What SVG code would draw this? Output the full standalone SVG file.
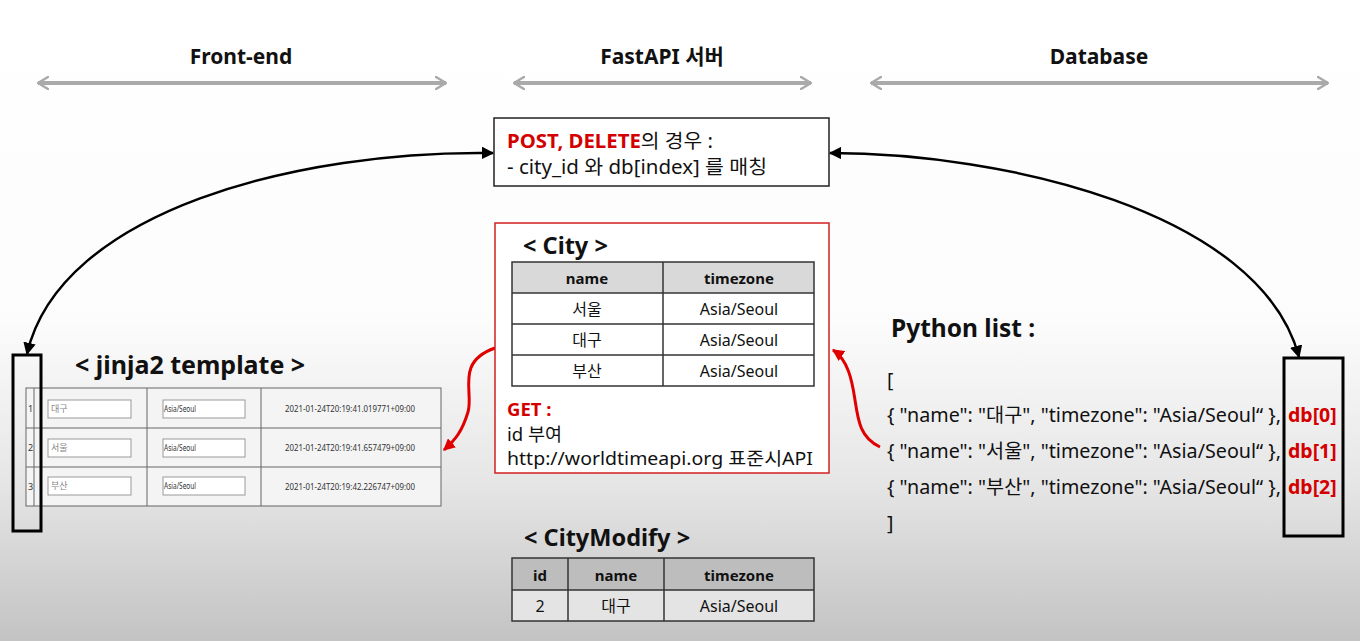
<svg xmlns="http://www.w3.org/2000/svg" width="1360" height="641" viewBox="0 0 1360 641">
<defs>
<linearGradient id="bg" x1="0" y1="0" x2="0" y2="1">
<stop offset="0" stop-color="#ffffff"/>
<stop offset="0.5" stop-color="#fcfcfd"/>
<stop offset="0.75" stop-color="#e6e6e7"/>
<stop offset="1" stop-color="#c3c3c4"/>
</linearGradient>
<marker id="ab" viewBox="0 0 10 10" refX="9" refY="5" markerWidth="5" markerHeight="5" orient="auto-start-reverse" markerUnits="strokeWidth"><path d="M0,0 L10,5 L0,10 z" fill="#000"/></marker>
<marker id="ar" viewBox="0 0 10 10" refX="9" refY="5" markerWidth="4" markerHeight="4" orient="auto" markerUnits="strokeWidth"><path d="M0,0 L10,5 L0,10 z" fill="#e00000"/></marker>
<marker id="ag" viewBox="0 0 12 14" refX="11" refY="7" markerWidth="3" markerHeight="3.5" orient="auto-start-reverse" markerUnits="strokeWidth"><path d="M1,1 L11,7 L1,13" fill="none" stroke="#aaa" stroke-width="2.5" stroke-linecap="round"/></marker>
</defs>
<style>
text{font-family:"Noto Sans","Noto Sans CJK KR",sans-serif;fill:#111}
.h{font-size:21px;font-weight:bold}
.h2{font-size:23.5px;font-weight:bold}
.t{font-size:19.5px}
.t2{font-size:18.5px}
.b{font-weight:bold}
.red{fill:#d40000;font-weight:bold}
.cell{font-size:16px;text-anchor:middle}
.th{font-size:15px;font-weight:bold;text-anchor:middle}
.sm{font-size:9px;fill:#333}
.g{stroke:#aaa;stroke-width:4;fill:none}
.tb{stroke:#333;stroke-width:1.5;fill:none}
.jt{stroke:#666;stroke-width:1;fill:none}
.in{stroke:#999;stroke-width:1;fill:#fff}
</style>
<rect width="1360" height="641" fill="url(#bg)"/>

<g id="headers">
<text class="h" x="241" y="64" text-anchor="middle">Front-end</text>
<text class="h" x="662" y="64" text-anchor="middle">FastAPI 서버</text>
<text class="h" x="1099" y="64" text-anchor="middle">Database</text>
</g>

<g id="connectors">
<line class="g" x1="38" y1="83" x2="446" y2="83" marker-start="url(#ag)" marker-end="url(#ag)"/>
<line class="g" x1="514" y1="83" x2="811" y2="83" marker-start="url(#ag)" marker-end="url(#ag)"/>
<line class="g" x1="871" y1="83" x2="1328" y2="83" marker-start="url(#ag)" marker-end="url(#ag)"/>
<path d="M493,153 C300,150 60,210 27,354" stroke="#000" stroke-width="2.5" fill="none" marker-start="url(#ab)" marker-end="url(#ab)"/>
<path d="M830,153 C1000,153 1260,210 1299,357" stroke="#000" stroke-width="2.5" fill="none" marker-start="url(#ab)" marker-end="url(#ab)"/>
<path d="M495,348 C455,362 474,392 468,412 C462,432 455,440 444,450" stroke="#e00000" stroke-width="3" fill="none" marker-end="url(#ar)"/>
<path d="M880,447 C860,438 858,420 855,400 C852,380 848,360 833,350" stroke="#e00000" stroke-width="3" fill="none" marker-end="url(#ar)"/>
</g>

<g id="post-box">
<rect x="494" y="118" width="335" height="68" fill="#fff" stroke="#222" stroke-width="1.5"/>
<text class="t" x="507" y="148" textLength="206" lengthAdjust="spacingAndGlyphs"><tspan class="red">POST, DELETE</tspan>의 경우 :</text>
<text class="t" x="507" y="174" textLength="260" lengthAdjust="spacingAndGlyphs">- city_id 와 db[index] 를 매칭</text>
</g>

<g id="city">
<rect x="495" y="223" width="334" height="250" fill="#fff" stroke="#d42020" stroke-width="1.5"/>
<text class="h2" x="523" y="254">&lt; City &gt;</text>
<rect x="512" y="262" width="302" height="31" fill="#d9d9d9"/>
<rect class="tb" x="512" y="262" width="302" height="124"/>
<line class="tb" x1="512" y1="293" x2="814" y2="293"/>
<line class="tb" x1="512" y1="324" x2="814" y2="324"/>
<line class="tb" x1="512" y1="355" x2="814" y2="355"/>
<line class="tb" x1="663" y1="262" x2="663" y2="386"/>
<text class="th" x="587" y="284">name</text>
<text class="th" x="739" y="284">timezone</text>
<text class="cell" x="587" y="315">서울</text>
<text class="cell" x="739" y="315">Asia/Seoul</text>
<text class="cell" x="587" y="346">대구</text>
<text class="cell" x="739" y="346">Asia/Seoul</text>
<text class="cell" x="587" y="377">부산</text>
<text class="cell" x="739" y="377">Asia/Seoul</text>
<text class="t2" x="507" y="416"><tspan class="red">GET :</tspan></text>
<text class="t2" x="507" y="441">id 부여</text>
<text class="t2" x="507" y="465" textLength="306" lengthAdjust="spacingAndGlyphs">http://worldtimeapi.org 표준시API</text>
</g>

<g id="jinja">
<text x="75" y="374" style="font-size:25px;font-weight:bold">&lt; jinja2 template &gt;</text>
<rect x="26" y="388" width="415" height="118" fill="#f4f4f4" stroke="#666" stroke-width="1"/>
<line class="jt" x1="26" y1="428" x2="441" y2="428"/>
<line class="jt" x1="26" y1="467" x2="441" y2="467"/>
<line class="jt" x1="34" y1="388" x2="34" y2="506"/>
<line class="jt" x1="147" y1="388" x2="147" y2="506"/>
<line class="jt" x1="261" y1="388" x2="261" y2="506"/>
<text class="sm" x="28" y="412">1</text>
<text class="sm" x="28" y="451">2</text>
<text class="sm" x="28" y="490">3</text>
<rect class="in" x="48" y="400" width="83" height="18"/>
<rect class="in" x="163" y="400" width="82" height="18"/>
<rect class="in" x="48" y="439" width="83" height="18"/>
<rect class="in" x="163" y="439" width="82" height="18"/>
<rect class="in" x="48" y="477" width="83" height="18"/>
<rect class="in" x="163" y="477" width="82" height="18"/>
<text class="sm" x="51" y="412" style="fill:#888">대구</text>
<text class="sm" x="51" y="451" style="fill:#888">서울</text>
<text class="sm" x="51" y="489" style="fill:#888">부산</text>
<text class="sm" x="164" y="412" textLength="32" lengthAdjust="spacingAndGlyphs">Asia/Seoul</text>
<text class="sm" x="164" y="451" textLength="32" lengthAdjust="spacingAndGlyphs">Asia/Seoul</text>
<text class="sm" x="164" y="489" textLength="32" lengthAdjust="spacingAndGlyphs">Asia/Seoul</text>
<text class="sm" x="285" y="412" textLength="130" lengthAdjust="spacingAndGlyphs">2021-01-24T20:19:41.019771+09:00</text>
<text class="sm" x="285" y="451" textLength="130" lengthAdjust="spacingAndGlyphs">2021-01-24T20:19:41.657479+09:00</text>
<text class="sm" x="285" y="490" textLength="130" lengthAdjust="spacingAndGlyphs">2021-01-24T20:19:42.226747+09:00</text>
<rect x="13" y="355" width="28" height="176" fill="none" stroke="#000" stroke-width="3"/>
</g>

<g id="python-list">
<text x="891" y="337" style="font-size:24.5px;font-weight:bold">Python list :</text>
<text class="t" x="887" y="387">[</text>
<text class="t" x="887" y="422" textLength="394" lengthAdjust="spacingAndGlyphs">{ "name": "대구", "timezone": "Asia/Seoul“ },</text>
<text class="t" x="887" y="458" textLength="394" lengthAdjust="spacingAndGlyphs">{ "name": "서울", "timezone": "Asia/Seoul“ },</text>
<text class="t" x="887" y="494" textLength="394" lengthAdjust="spacingAndGlyphs">{ "name": "부산", "timezone": "Asia/Seoul“ },</text>
<text class="t" x="887" y="530">]</text>
<text class="t red" x="1288" y="422">db[0]</text>
<text class="t red" x="1288" y="458">db[1]</text>
<text class="t red" x="1288" y="494">db[2]</text>
<rect x="1284" y="358" width="59" height="178" fill="none" stroke="#000" stroke-width="3"/>
</g>

<g id="citymodify">
<text class="h2" x="524" y="546">&lt; CityModify &gt;</text>
<rect x="512" y="558" width="302" height="32" fill="#bdbdbd"/>
<rect x="512" y="590" width="302" height="31" fill="#e4e4e4"/>
<rect class="tb" x="512" y="558" width="302" height="63"/>
<line class="tb" x1="512" y1="590" x2="814" y2="590"/>
<line class="tb" x1="568" y1="558" x2="568" y2="621"/>
<line class="tb" x1="664" y1="558" x2="664" y2="621"/>
<text class="th" x="540" y="581">id</text>
<text class="th" x="616" y="581">name</text>
<text class="th" x="739" y="581">timezone</text>
<text class="cell" x="540" y="612">2</text>
<text class="cell" x="616" y="612">대구</text>
<text class="cell" x="739" y="612">Asia/Seoul</text>
</g>
</svg>
